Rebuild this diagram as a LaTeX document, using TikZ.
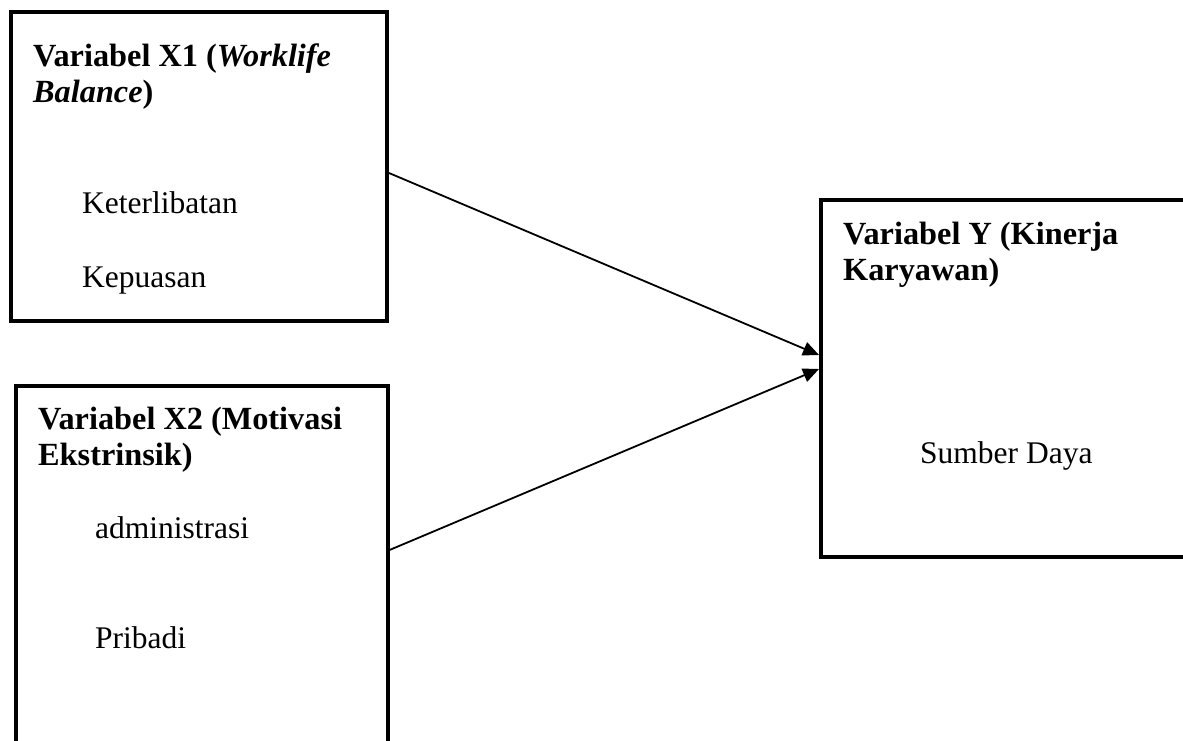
\documentclass[tikz,border=0pt]{standalone}
\usepackage{fontspec}
\setmainfont{Liberation Serif}
\usetikzlibrary{arrows.meta}
\tikzset{
  varbox/.style={draw=black, line width=4pt, inner sep=0pt, fill=none},
  title/.style={anchor=base west, inner sep=0pt, align=left, font=\fontsize{32.3}{35.5}\selectfont\bfseries},
  item/.style={anchor=base west, inner sep=0pt, font=\fontsize{31.5}{35.5}\selectfont},
  arr/.style={line width=1.8pt, -{Triangle[length=16pt,width=14pt]}},
}
\begin{document}
\begin{tikzpicture}[x=1pt,y=-1pt]
\useasboundingbox[fill=white] (0,0) rectangle (1183,740);
\clip (0,0) rectangle (1183,740);
% boxes
\node[varbox, minimum width=376pt, minimum height=309pt] (x1) at (199,166.5) {};
\node[varbox, minimum width=372pt, minimum height=374pt] (x2) at (201.5,573) {};
\node[varbox, minimum width=364pt, minimum height=357pt] (y) at (1003,378.5) {};
% texts (anchored at baseline of last line)
\node[title] (t1) at (33,102) {Variabel X1 (\textit{Worklife}\\\textit{Balance})};
\node[item] (k1) at (82,213) {Keterlibatan};
\node[item] (k2) at (82,287) {Kepuasan};
\node[title] (t2) at (38,465) {Variabel X2 (Motivasi\\Ekstrinsik)};
\node[item] (a1) at (95,538) {administrasi};
\node[item] (a2) at (95,648) {Pribadi};
\node[title] (t3) at (843,280) {Variabel Y (Kinerja\\Karyawan)};
\node[item] (s1) at (920,463) {Sumber Daya};
% arrows
\draw[arr] ([yshift=-6.5pt]x1.east) -- ([yshift=23.5pt]y.west);
\draw[arr] ([yshift=23pt]x2.east) -- ([yshift=9.5pt]y.west);
\end{tikzpicture}
\end{document}
